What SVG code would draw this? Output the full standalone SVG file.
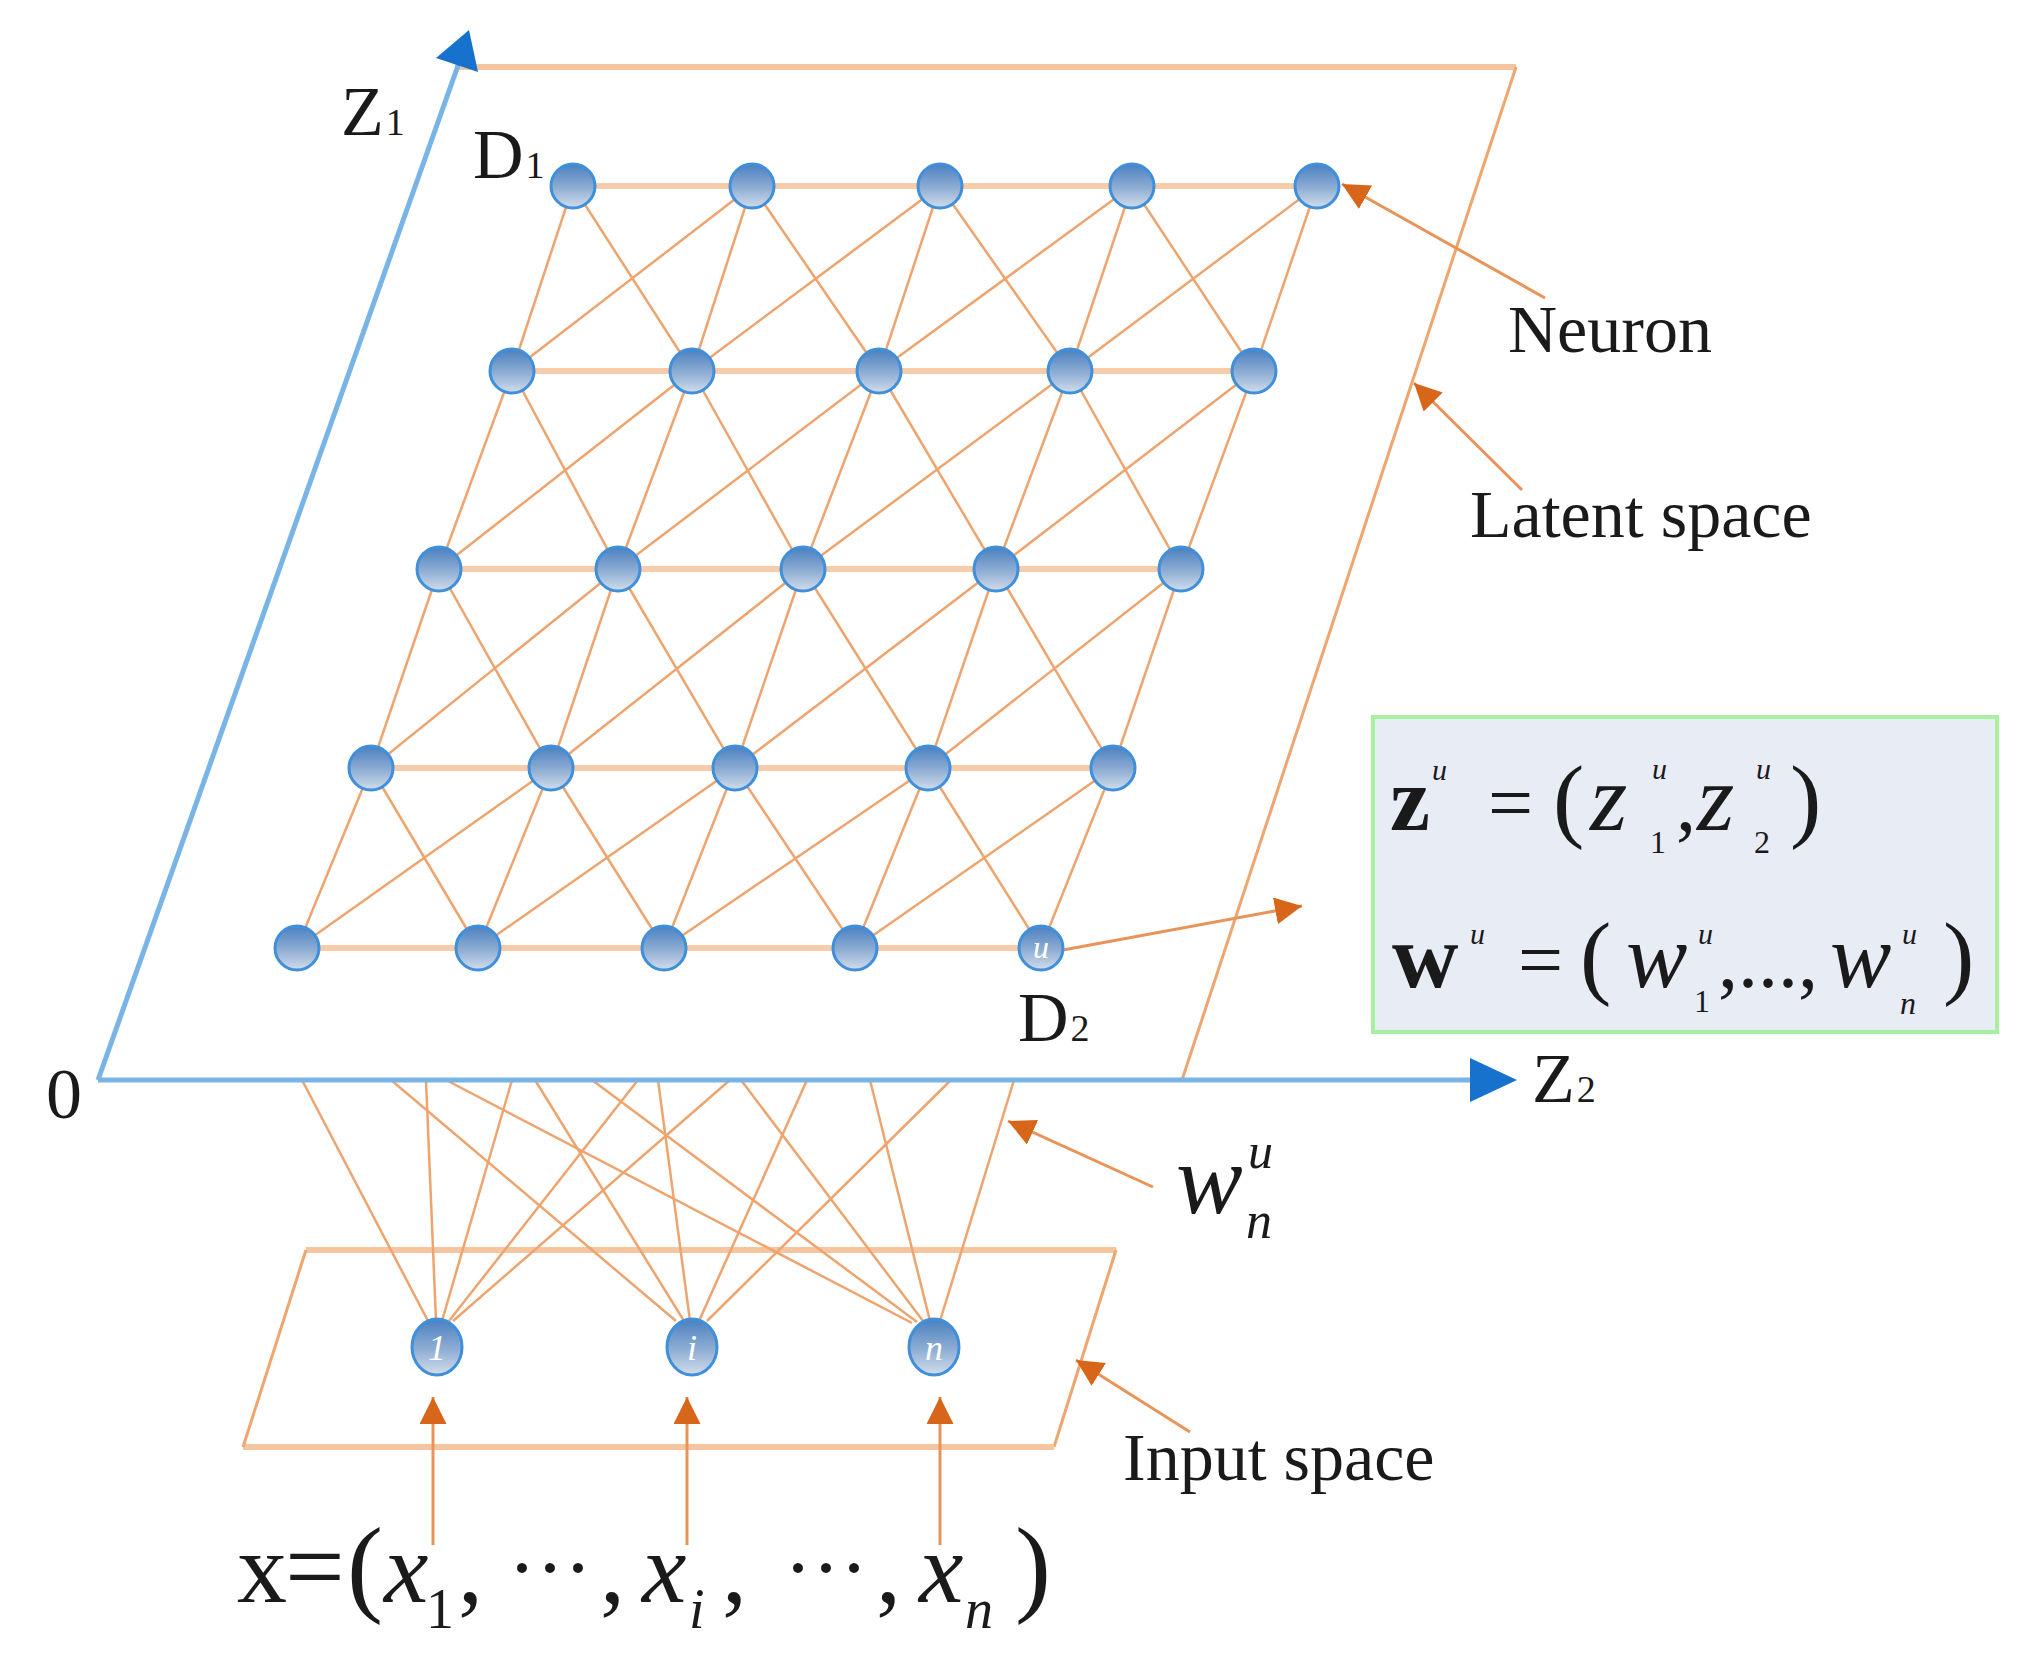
<svg xmlns="http://www.w3.org/2000/svg" width="2041" height="1659" viewBox="0 0 2041 1659">
<defs>
<linearGradient id="ng" x1="0" y1="0" x2="0" y2="1">
<stop offset="0" stop-color="#4A80C0"/>
<stop offset="0.55" stop-color="#8FAED4"/>
<stop offset="1" stop-color="#D2DDEC"/>
</linearGradient>
<marker id="ah" viewBox="0 0 10 10" refX="10" refY="5" markerWidth="27" markerHeight="27" markerUnits="userSpaceOnUse" orient="auto">
<path d="M0,0 L10,5 L0,10 z" fill="#D8661A"/>
</marker>
<style>
.t{font-family:"Liberation Serif","Times New Roman",serif;fill:#1a1a1a}
.i{font-style:italic}
.b{font-weight:bold}
.g{stroke:#EEA46E;stroke-width:2.5;fill:none}
.h{stroke:#F6CCAA;stroke-width:6;fill:none}
.edge{stroke:#EFA56E;stroke-width:3;fill:none}
.edgeT{stroke:#F4C59F;stroke-width:6;fill:none}
.ann{stroke:#E89459;stroke-width:3;fill:none;marker-end:url(#ah)}
.ax{stroke:#78B5E6;stroke-width:5;fill:none}
.axh{fill:#1672CC}
.nd{fill:url(#ng);stroke:#3F8FDA;stroke-width:3}
.nl{font-family:"Liberation Serif",serif;font-style:italic;fill:#ffffff}
</style>
</defs>
<rect width="2041" height="1659" fill="#ffffff"/>

<g id="latent-plane">
<line class="edgeT" x1="455" y1="67" x2="1516" y2="67"/>
<line class="edge" x1="1516" y1="67" x2="1182" y2="1080"/>
</g>

<g id="input-plane">
<line class="edgeT" x1="306" y1="1250" x2="1116" y2="1250"/>
<line class="edge" x1="1116" y1="1250" x2="1054" y2="1447"/>
<line class="edgeT" x1="1054" y1="1447" x2="243" y2="1447"/>
<line class="edge" x1="243" y1="1447" x2="306" y2="1250"/>
</g>

<g id="connectors">
<g id="grid-rows">
<line class="h" x1="573" y1="186" x2="1317" y2="186"/>
<line class="h" x1="512" y1="371" x2="1254" y2="371"/>
<line class="h" x1="439" y1="569" x2="1181" y2="569"/>
<line class="h" x1="371" y1="768" x2="1113" y2="768"/>
<line class="h" x1="297" y1="948" x2="1041" y2="948"/>
</g>
<g id="grid-links">
<path class="g" d="M573,186L512,371M752,186L692,371M940,186L879,371M1132,186L1070,371M1317,186L1254,371
M573,186L692,371M752,186L879,371M940,186L1070,371M1132,186L1254,371
M512,371L752,186M692,371L940,186M879,371L1132,186M1070,371L1317,186"/>
<path class="g" d="M512,371L439,569M692,371L618,569M879,371L803,569M1070,371L996,569M1254,371L1181,569
M512,371L618,569M692,371L803,569M879,371L996,569M1070,371L1181,569
M439,569L692,371M618,569L879,371M803,569L1070,371M996,569L1254,371"/>
<path class="g" d="M439,569L371,768M618,569L551,768M803,569L735,768M996,569L928,768M1181,569L1113,768
M439,569L551,768M618,569L735,768M803,569L928,768M996,569L1113,768
M371,768L618,569M551,768L803,569M735,768L996,569M928,768L1181,569"/>
<path class="g" d="M371,768L297,948M551,768L478,948M735,768L664,948M928,768L855,948M1113,768L1041,948
M371,768L478,948M551,768L664,948M735,768L855,948M928,768L1041,948
M297,948L551,768M478,948L735,768M664,948L928,768M855,948L1113,768"/>
</g>
<g id="weights">
<path class="g" d="M302,1080L428,1321M426,1080L436,1321M512,1080L442,1321M638,1080L449,1321M730,1080L453,1321"/>
<path class="g" d="M391,1080L676,1321M535,1080L684,1321M658,1080L690,1321M807,1080L699,1321M951,1080L707,1321"/>
<path class="g" d="M446,1080L912,1323M592,1080L917,1322M741,1080L923,1321M870,1080L930,1321M1014,1080L940,1321"/>
</g>
<g id="input-arrows">
<line class="ann" x1="433" y1="1545" x2="433" y2="1397"/>
<line class="ann" x1="687" y1="1545" x2="687" y2="1397"/>
<line class="ann" x1="940" y1="1545" x2="940" y2="1397"/>
</g>
<g id="annotation-arrows">
<line class="ann" x1="1545" y1="298" x2="1342" y2="184"/>
<line class="ann" x1="1522" y1="490" x2="1414" y2="383"/>
<line class="ann" x1="1063" y1="950" x2="1302" y2="906"/>
<line class="ann" x1="1153" y1="1187" x2="1008" y2="1121"/>
<line class="ann" x1="1190" y1="1432" x2="1076" y2="1360"/>
</g>
</g>

<g id="axes">
<line class="ax" x1="98" y1="1080" x2="1480" y2="1080"/>
<polygon class="axh" points="1517,1080 1470,1058 1470,1102"/>
<line class="ax" x1="98" y1="1080" x2="460" y2="60" stroke-width="4"/>
<polygon class="axh" points="469,30 478,72 436,58"/>
<text class="t" x="341" y="135" font-size="70">Z<tspan font-size="38" dx="2">1</tspan></text>
<text class="t" x="1532" y="1102" font-size="70">Z<tspan font-size="38" dx="2">2</tspan></text>
<text class="t" x="46" y="1118" font-size="72">0</text>
</g>

<g id="neurons">
<g id="n-1-1"><circle class="nd" cx="573" cy="186" r="22"/></g>
<g id="n-1-2"><circle class="nd" cx="752" cy="186" r="22"/></g>
<g id="n-1-3"><circle class="nd" cx="940" cy="186" r="22"/></g>
<g id="n-1-4"><circle class="nd" cx="1132" cy="186" r="22"/></g>
<g id="n-1-5"><circle class="nd" cx="1317" cy="186" r="22"/></g>
<g id="n-2-1"><circle class="nd" cx="512" cy="371" r="22"/></g>
<g id="n-2-2"><circle class="nd" cx="692" cy="371" r="22"/></g>
<g id="n-2-3"><circle class="nd" cx="879" cy="371" r="22"/></g>
<g id="n-2-4"><circle class="nd" cx="1070" cy="371" r="22"/></g>
<g id="n-2-5"><circle class="nd" cx="1254" cy="371" r="22"/></g>
<g id="n-3-1"><circle class="nd" cx="439" cy="569" r="22"/></g>
<g id="n-3-2"><circle class="nd" cx="618" cy="569" r="22"/></g>
<g id="n-3-3"><circle class="nd" cx="803" cy="569" r="22"/></g>
<g id="n-3-4"><circle class="nd" cx="996" cy="569" r="22"/></g>
<g id="n-3-5"><circle class="nd" cx="1181" cy="569" r="22"/></g>
<g id="n-4-1"><circle class="nd" cx="371" cy="768" r="22"/></g>
<g id="n-4-2"><circle class="nd" cx="551" cy="768" r="22"/></g>
<g id="n-4-3"><circle class="nd" cx="735" cy="768" r="22"/></g>
<g id="n-4-4"><circle class="nd" cx="928" cy="768" r="22"/></g>
<g id="n-4-5"><circle class="nd" cx="1113" cy="768" r="22"/></g>
<g id="n-5-1"><circle class="nd" cx="297" cy="948" r="22"/></g>
<g id="n-5-2"><circle class="nd" cx="478" cy="948" r="22"/></g>
<g id="n-5-3"><circle class="nd" cx="664" cy="948" r="22"/></g>
<g id="n-5-4"><circle class="nd" cx="855" cy="948" r="22"/></g>
<g id="n-5-5"><circle class="nd" cx="1041" cy="948" r="22"/><text class="nl" x="1041" y="958" font-size="32" text-anchor="middle">u</text></g>
</g>

<g id="inputs">
<g id="in-1"><ellipse class="nd" cx="437" cy="1347" rx="25" ry="28"/><text class="nl" x="437" y="1360" font-size="36" text-anchor="middle">1</text></g>
<g id="in-i"><ellipse class="nd" cx="692" cy="1347" rx="25" ry="28"/><text class="nl" x="692" y="1360" font-size="36" text-anchor="middle">i</text></g>
<g id="in-n"><ellipse class="nd" cx="934" cy="1347" rx="25" ry="28"/><text class="nl" x="934" y="1360" font-size="36" text-anchor="middle">n</text></g>
</g>

<g id="labels">
<text class="t" x="473" y="178" font-size="70">D<tspan font-size="38" dx="2">1</tspan></text>
<text class="t" x="1018" y="1041" font-size="70">D<tspan font-size="38" dx="2">2</tspan></text>
<text class="t" x="1508" y="352" font-size="68">Neuron</text>
<text class="t" x="1470" y="537" font-size="68">Latent space</text>
<text class="t" x="1123" y="1480" font-size="68">Input space</text>
<g id="w-label">
<text class="t i" x="1176" y="1213" font-size="100">w</text>
<text class="t i" x="1248" y="1168" font-size="50">u</text>
<text class="t i" x="1246" y="1238" font-size="52">n</text>
</g>
</g>

<g id="info-box">
<rect x="1373" y="717" width="624" height="315" fill="#E8ECF5" stroke="#A6F0A0" stroke-width="4"/>
<text class="t b" x="1390" y="830" font-size="90">z</text>
<text class="t i" x="1432" y="780" font-size="30">u</text>
<text class="t" x="1488" y="830" font-size="80">=</text>
<text class="t" x="1553" y="830" font-size="94">(</text>
<text class="t i" x="1590" y="830" font-size="96">z</text>
<text class="t i" x="1652" y="779" font-size="30">u</text>
<text class="t" x="1650" y="853" font-size="32">1</text>
<text class="t" x="1676" y="830" font-size="80">,</text>
<text class="t i" x="1697" y="830" font-size="96">z</text>
<text class="t i" x="1756" y="779" font-size="30">u</text>
<text class="t" x="1754" y="853" font-size="32">2</text>
<text class="t" x="1790" y="830" font-size="94">)</text>

<text class="t b" x="1392" y="987" font-size="92">w</text>
<text class="t i" x="1470" y="944" font-size="30">u</text>
<text class="t" x="1518" y="987" font-size="80">=</text>
<text class="t" x="1580" y="987" font-size="94">(</text>
<text class="t i" x="1626" y="987" font-size="92">w</text>
<text class="t i" x="1698" y="944" font-size="30">u</text>
<text class="t" x="1694" y="1012" font-size="32">1</text>
<text class="t" x="1718" y="987" font-size="80">,...,</text>
<text class="t i" x="1830" y="987" font-size="92">w</text>
<text class="t i" x="1902" y="944" font-size="30">u</text>
<text class="t i" x="1900" y="1014" font-size="32">n</text>
<text class="t" x="1943" y="987" font-size="94">)</text>
</g>

<g id="input-vector">
<text class="t" font-size="100"><tspan x="237" y="1602">x</tspan><tspan x="285" y="1602" font-size="106">=</tspan><tspan x="347" y="1602" font-size="108">(</tspan><tspan x="384" y="1602" class="i">x</tspan><tspan x="426" y="1628" font-size="56">1</tspan><tspan x="458" y="1602">,</tspan><tspan x="508" y="1596" font-size="84">···</tspan><tspan x="600" y="1602">,</tspan><tspan x="642" y="1602" class="i">x</tspan><tspan x="689" y="1628" font-size="56" class="i">i</tspan><tspan x="722" y="1602">,</tspan><tspan x="784" y="1596" font-size="84">···</tspan><tspan x="876" y="1602">,</tspan><tspan x="919" y="1602" class="i">x</tspan><tspan x="965" y="1628" font-size="56" class="i">n</tspan><tspan x="1015" y="1602" font-size="108">)</tspan></text>
</g>
</svg>
